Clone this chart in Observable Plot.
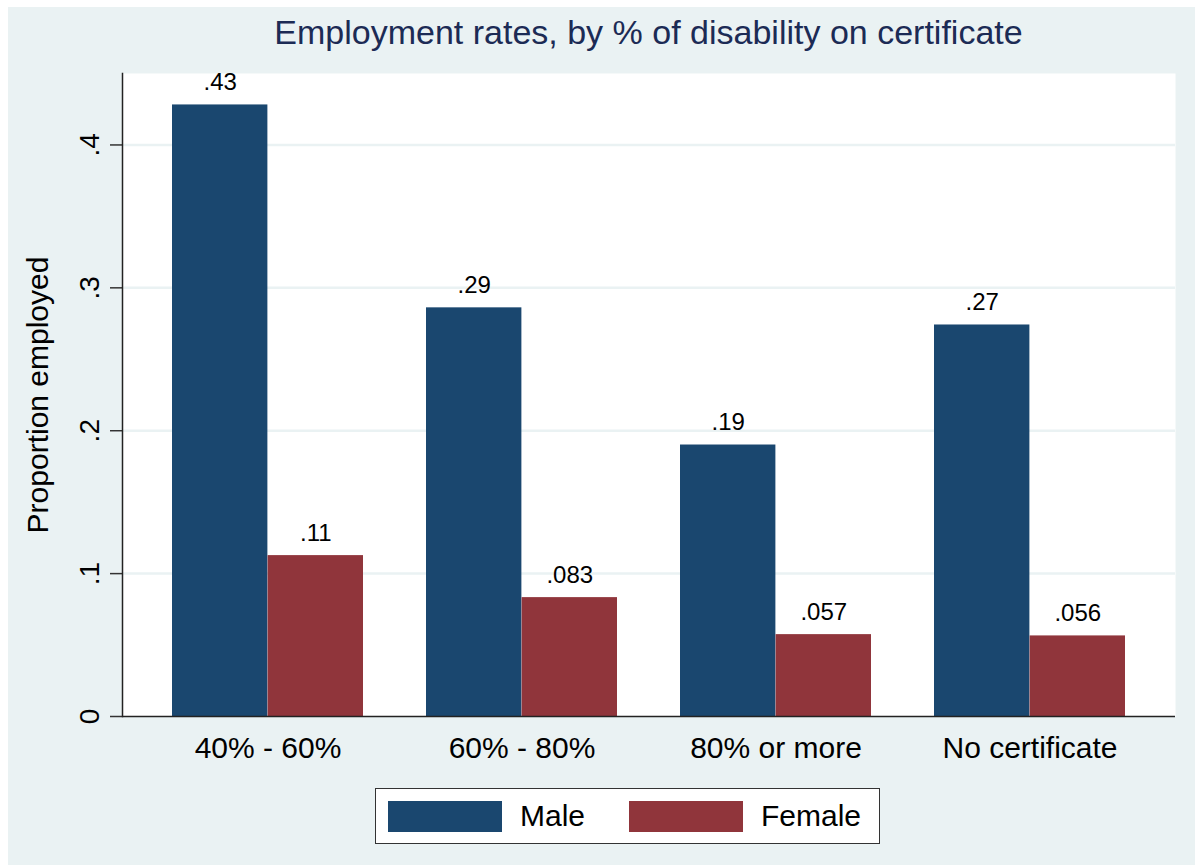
<!DOCTYPE html>
<html>
<head>
<meta charset="utf-8">
<script src="https://cdn.jsdelivr.net/npm/d3@7"></script>
<script src="https://cdn.jsdelivr.net/npm/@observablehq/plot@0.6"></script>
<style>
  html, body { margin: 0; padding: 0; background: #ffffff; }
  #wrap { position: relative; width: 1195px; height: 865px; overflow: hidden;
          font-family: "Liberation Sans", Arial, sans-serif; }
  #bg { position: absolute; left: 8px; top: 7px; right: 0; bottom: 0; background: #EAF2F3; }
  #title { position: absolute; left: 122px; width: 1053px; top: 12px; text-align: center;
           font-size: 34px; color: #1c2b55; line-height: 40px; white-space: nowrap; }
  #chart { position: absolute; left: 0; top: 60px; }
  #chart svg { background: transparent; overflow: visible; }
  #legend { position: absolute; left: 375px; top: 788px; width: 503px; height: 54px;
            background: #ffffff; border: 1.5px solid #333; }
  .sw { position: absolute; top: 12px; width: 114px; height: 31px; }
  .lt { position: absolute; top: 9px; font-size: 30px; line-height: 36px; color: #000; }
</style>
</head>
<body>
<div id="wrap">
  <div id="bg"></div>
  <div id="title"></div>
  <div id="chart"></div>
  <div id="legend"></div>
</div>
<script>
// ---- data ----
const titleText = "Employment rates, by % of disability on certificate";
const yLabel = "Proportion employed";
const categories = ["40% - 60%", "60% - 80%", "80% or more", "No certificate"];
const series = ["Male", "Female"];
const maleValues = [0.428, 0.286, 0.190, 0.274];
const femaleValues = [0.1126, 0.0832, 0.0573, 0.0564];
const yTicks = [0, 0.1, 0.2, 0.3, 0.4];
const colors = ["#1a476f", "#90353b"];

// ---- build ----
document.getElementById("title").textContent = titleText;

const W = 1195, H = 720;
const mL = 122, mR = 20, mT = 13, mB = 64;
const xOpts = {type: "band", domain: categories, paddingInner: 0.25, paddingOuter: 0.19, align: 0.5};
const xs = Plot.scale({x: {...xOpts, range: [mL, W - mR]}});
const half = xs.bandwidth / 2;

const rows = [];
categories.forEach((c, i) => {
  rows.push({cat: c, sex: series[0], value: maleValues[i]});
  rows.push({cat: c, sex: series[1], value: femaleValues[i]});
});
const male = rows.filter(d => d.sex === series[0]);
const female = rows.filter(d => d.sex === series[1]);

const valFmt = v => d3.format(".2r")(v).replace(/^0\./, ".");
const tickFmt = d => d === 0 ? "0" : d3.format(".1f")(d).replace(/^0/, "");
const font = "Liberation Sans, Arial, sans-serif";

const chart = Plot.plot({
  width: W, height: H,
  marginLeft: mL, marginRight: mR, marginTop: mT, marginBottom: mB,
  style: {fontFamily: font, background: "transparent", color: "#000"},
  x: {...xOpts, label: null},
  y: {domain: [0, 0.45], label: null},
  marks: [
    Plot.frame({fill: "white", stroke: null}),
    Plot.gridY(yTicks.filter(d => d > 0), {stroke: "#EAF2F3", strokeOpacity: 1, strokeWidth: 2.5}),
    Plot.barY(male, {x: "cat", y: "value", fill: colors[0], insetRight: half}),
    Plot.barY(female, {x: "cat", y: "value", fill: colors[1], insetLeft: half}),
    Plot.text(male, {x: "cat", y: "value", text: d => valFmt(d.value), dx: -half / 2, dy: -15,
      lineAnchor: "bottom", fontSize: 24, fill: "#000"}),
    Plot.text(female, {x: "cat", y: "value", text: d => valFmt(d.value), dx: half / 2, dy: -15,
      lineAnchor: "bottom", fontSize: 24, fill: "#000"}),
    Plot.axisY({ticks: yTicks, tickSize: 12, tickFormat: () => "", stroke: "#333", strokeWidth: 1.5, label: null}),
    Plot.text(yTicks, {y: d => d, text: tickFmt, frameAnchor: "left", rotate: -90, dx: -24,
      textAnchor: "middle", lineAnchor: "bottom", fontSize: 28, fill: "#000"}),
    Plot.text([yLabel], {text: d => d, frameAnchor: "left", rotate: -90, dx: -75,
      textAnchor: "middle", lineAnchor: "bottom", fontSize: 30, fill: "#000"}),
    Plot.axisX({tickSize: 0, tickPadding: 20, fontSize: 30, label: null, fill: "#000"}),
    Plot.ruleY([0], {stroke: "#222", strokeWidth: 1.5}),
    Plot.frame({anchor: "left", stroke: "#222", strokeWidth: 1.5})
  ]
});
document.getElementById("chart").appendChild(chart);

// legend
const leg = document.getElementById("legend");
const swLeft = [12, 253];
const txLeft = [144, 385];
series.forEach((s, i) => {
  const sw = document.createElement("div");
  sw.className = "sw";
  sw.style.left = swLeft[i] + "px";
  sw.style.background = colors[i];
  leg.appendChild(sw);
  const t = document.createElement("div");
  t.className = "lt";
  t.style.left = txLeft[i] + "px";
  t.textContent = s;
  leg.appendChild(t);
});
</script>
</body>
</html>
